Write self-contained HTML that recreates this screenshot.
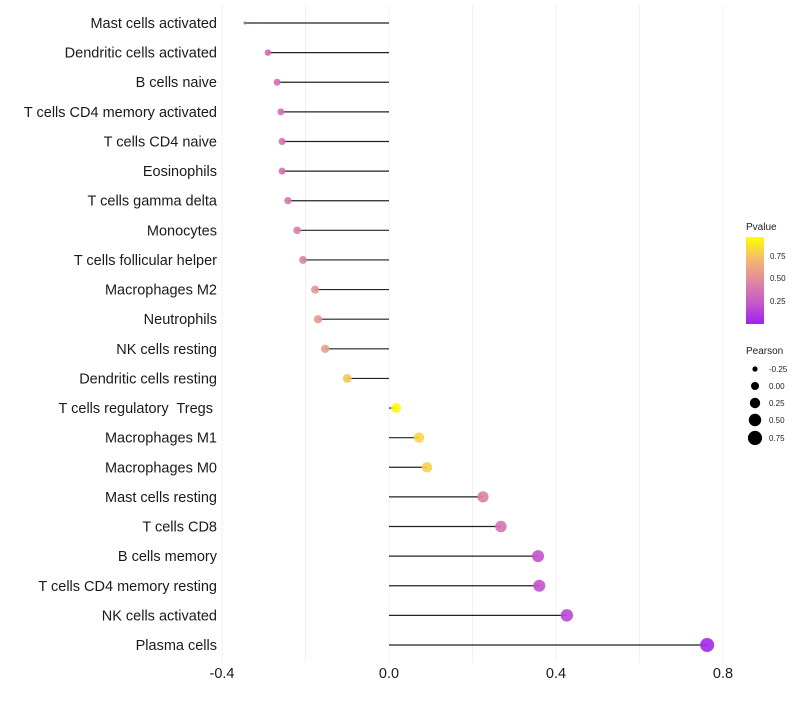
<!DOCTYPE html>
<html><head><meta charset="utf-8"><style>
body{margin:0;background:#fff;font-family:"Liberation Sans",sans-serif;}
text{white-space:pre;}
</style></head><body>
<svg id="chart" width="800" height="700" xmlns="http://www.w3.org/2000/svg" font-family="Liberation Sans, sans-serif">
<g id="grid"></g>
<g id="marks"></g>
<g id="yaxis"></g>
<g id="xaxis"></g>
<g>
<text x="746" y="230" font-size="10" fill="#222">Pvalue</text>
<defs><linearGradient id="pg" x1="0" y1="1" x2="0" y2="0">
<stop offset="0" stop-color="#a020f0"/><stop offset="0.25" stop-color="#c65ac8"/><stop offset="0.5" stop-color="#e08a9e"/><stop offset="0.75" stop-color="#f3bb6e"/><stop offset="1" stop-color="#ffff00"/></linearGradient></defs>
<rect x="746" y="237" width="18" height="87" fill="url(#pg)"/>
<text x="770" y="259" font-size="8" fill="#222">0.75</text>
<text x="770" y="281" font-size="8" fill="#222">0.50</text>
<text x="770" y="304" font-size="8" fill="#222">0.25</text>
</g>
<g>
<text x="746" y="354" font-size="10" fill="#222">Pearson</text>
<circle cx="755" cy="369" r="2.6"/><text x="769" y="372" font-size="8" fill="#222">-0.25</text>
<circle cx="755" cy="386" r="4"/><text x="769" y="389" font-size="8" fill="#222">0.00</text>
<circle cx="755" cy="403" r="5.2"/><text x="769" y="406" font-size="8" fill="#222">0.25</text>
<circle cx="755" cy="420" r="6.2"/><text x="769" y="423" font-size="8" fill="#222">0.50</text>
<circle cx="755" cy="438" r="7.1"/><text x="769" y="441" font-size="8" fill="#222">0.75</text>
</g>
</svg>
<script>
const categories=["Mast cells activated","Dendritic cells activated","B cells naive","T cells CD4 memory activated","T cells CD4 naive","Eosinophils","T cells gamma delta","Monocytes","T cells follicular helper","Macrophages M2","Neutrophils","NK cells resting","Dendritic cells resting","T cells regulatory  Tregs ","Macrophages M1","Macrophages M0","Mast cells resting","T cells CD8","B cells memory","T cells CD4 memory resting","NK cells activated","Plasma cells"];
const pearson=[-0.345,-0.29,-0.268,-0.259,-0.256,-0.256,-0.242,-0.22,-0.206,-0.177,-0.17,-0.153,-0.10,0.017,0.072,0.091,0.225,0.268,0.357,0.36,0.426,0.762];
const pvalue=[0.2,0.35,0.36,0.37,0.37,0.38,0.4,0.43,0.46,0.55,0.57,0.6,0.8,0.97,0.85,0.83,0.45,0.38,0.22,0.22,0.17,0.03];
const xticks=[-0.4,0.0,0.4,0.8];
const xtickLabels=["-0.4","0.0","0.4","0.8"];
const gridVals=[-0.4,-0.2,0,0.2,0.4,0.6,0.8];
const NS="http://www.w3.org/2000/svg";
const xs=v=>389+v*417.5;
const ys=i=>23+i*(622/21);
function lerp(a,b,t){return a+(b-a)*t;}
const stops=[[0,[160,32,240]],[0.25,[198,90,200]],[0.5,[224,138,158]],[0.75,[243,187,110]],[1,[255,255,0]]];
function col(p){for(let k=0;k<stops.length-1;k++){const[a,ca]=stops[k],[b,cb]=stops[k+1];if(p<=b){const t=(p-a)/(b-a);return`rgb(${ca.map((c,j)=>Math.round(lerp(c,cb[j],t))).join(",")})`;}}return"rgb(255,255,0)";}
const pmin=Math.min(...pearson),pmax=Math.max(...pearson);
const rad=v=>{const t=(v-pmin)/(pmax-pmin);return t<=0?1.5:2.2+4.8*Math.sqrt(t);};
function mk(t,a,p){const e=document.createElementNS(NS,t);for(const k in a)e.setAttribute(k,a[k]);p.appendChild(e);return e;}
const grid=document.getElementById('grid'),marks=document.getElementById('marks'),ya=document.getElementById('yaxis'),xa=document.getElementById('xaxis');
gridVals.forEach(v=>{const l=mk('line',{x1:xs(v),x2:xs(v),y1:5,y2:662,stroke:'#f0f0f0','stroke-width':1},grid);

});
categories.forEach((c,i)=>{const y=ys(i);
const s=mk('line',{x1:xs(0),x2:xs(pearson[i]),y1:y,y2:y,stroke:'#222','stroke-width':1.2},marks);


const d=mk('circle',{cx:xs(pearson[i]),cy:y,r:rad(pearson[i]),fill:col(pvalue[i]),opacity:0.9},marks);


const t=mk('text',{x:217,y:y+5,'text-anchor':'end','font-size':14.5,fill:'#1a1a1a'},ya);t.textContent=c;

});
xticks.forEach((v,i)=>{const t=mk('text',{x:xs(v),y:678,'text-anchor':'middle','font-size':14.5,fill:'#1a1a1a'},xa);t.textContent=xtickLabels[i];

});
</script>
</body></html>
